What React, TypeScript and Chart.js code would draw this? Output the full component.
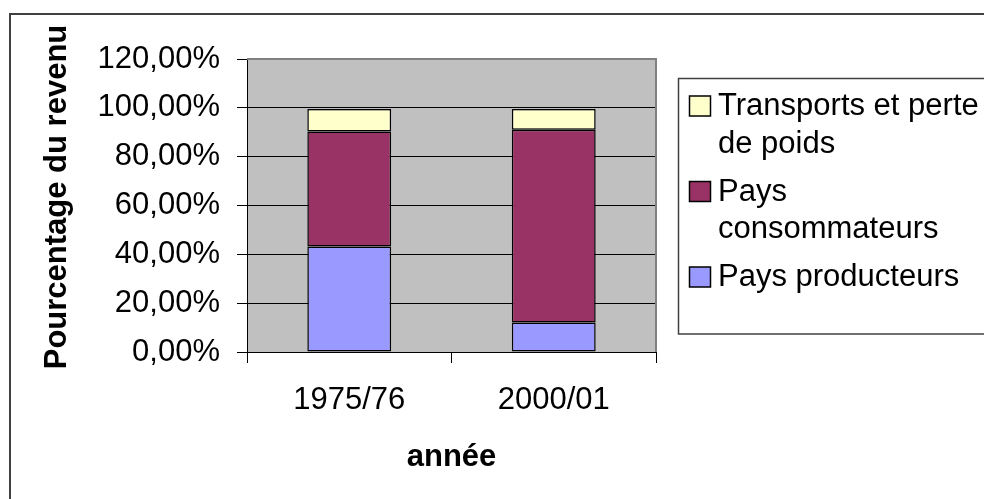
import React, { useEffect, useRef } from "react";
import { Chart, registerables } from "chart.js";

Chart.register(...registerables);

const categories = ["1975/76", "2000/01"];
const producteurs = [43.2, 12.1];
const consommateurs = [47.1, 78.9];
const transports = [9.2, 8.5];
const seriesLabels = ["Pays producteurs", "Pays consommateurs", "Transports et perte de poids"];
const seriesColors = ["#9999FF", "#993366", "#FFFFCC"];
const yTitle = "Pourcentage du revenu";
const xTitle = "année";

const FONT = "'Liberation Sans', Arial, sans-serif";

const framePlugin = {
  id: "frame",
  beforeDraw(chart: any) {
    const { ctx, chartArea } = chart;
    ctx.save();
    ctx.fillStyle = "#ffffff";
    ctx.fillRect(0, 0, chart.width, chart.height);
    ctx.strokeStyle = "#404040";
    ctx.lineWidth = 2;
    ctx.strokeRect(10, 14, chart.width + 20, chart.height + 20);
    ctx.fillStyle = "#C0C0C0";
    ctx.fillRect(chartArea.left, chartArea.top, chartArea.right - chartArea.left, chartArea.bottom - chartArea.top);
    ctx.restore();
  },
  afterDraw(chart: any) {
    const { ctx, chartArea } = chart;
    ctx.save();
    ctx.strokeStyle = "#808080";
    ctx.lineWidth = 2;
    ctx.beginPath();
    ctx.moveTo(chartArea.left, chartArea.top);
    ctx.lineTo(chartArea.right, chartArea.top);
    ctx.lineTo(chartArea.right, chartArea.bottom);
    ctx.stroke();

    // y axis title
    ctx.save();
    ctx.translate(57, 197);
    ctx.rotate(-Math.PI / 2);
    ctx.font = `bold 31px ${FONT}`;
    ctx.fillStyle = "#000000";
    ctx.textAlign = "center";
    ctx.textBaseline = "middle";
    ctx.fillText(yTitle, 0, 0);
    ctx.restore();

    // legend
    const lx = 678.5;
    const ly = 78.5;
    ctx.strokeStyle = "#404040";
    ctx.lineWidth = 1.5;
    ctx.fillStyle = "#ffffff";
    ctx.fillRect(lx, ly, chart.width, 334 - ly);
    ctx.strokeRect(lx, ly, chart.width + 20, 334 - ly);

    ctx.font = `31px ${FONT}`;
    ctx.textBaseline = "alphabetic";
    ctx.textAlign = "left";
    const textX = 718;
    const maxW = 266;
    const lineH = 37.5;
    let baseline = 115;
    const ds = chart.data.datasets;
    for (let i = ds.length - 1; i >= 0; i--) {
      const words = String(ds[i].label).split(" ");
      const lines: string[] = [];
      let cur = "";
      for (const w of words) {
        const test = cur ? cur + " " + w : w;
        if (ctx.measureText(test).width > maxW && cur) {
          lines.push(cur);
          cur = w;
        } else cur = test;
      }
      if (cur) lines.push(cur);
      ctx.fillStyle = ds[i].backgroundColor;
      ctx.fillRect(689.5, baseline - 19, 21, 20);
      ctx.strokeStyle = "#000000";
      ctx.lineWidth = 1.5;
      ctx.strokeRect(689.5, baseline - 19, 21, 20);
      ctx.fillStyle = "#000000";
      lines.forEach((ln, k) => {
        ctx.fillText(ln, textX, baseline + k * lineH);
      });
      baseline += (lines.length - 1) * lineH + 48;
    }
    ctx.restore();
  },
};

export default function App() {
  const ref = useRef<HTMLCanvasElement | null>(null);
  useEffect(() => {
    if (!ref.current) return;
    const datasets = [producteurs, consommateurs, transports].map((d, i) => ({
      label: seriesLabels[i],
      data: d,
      backgroundColor: seriesColors[i],
      borderColor: "#000000",
      borderWidth: 1.5,
      borderSkipped: false,
      barPercentage: 0.41,
      categoryPercentage: 1,
    }));
    const chart = new Chart(ref.current, {
      type: "bar",
      data: { labels: categories, datasets },
      plugins: [framePlugin],
      options: {
        animation: false,
        responsive: false,
        devicePixelRatio: 1,
        layout: { padding: { left: 0, top: 59, right: 984 - 656, bottom: 0 } },
        plugins: { legend: { display: false }, tooltip: { enabled: false }, title: { display: false } },
        scales: {
          x: {
            stacked: true,
            offset: true,
            afterFit: (s: any) => {
              s.height = 499 - 352;
            },
            grid: {
              offset: true,
              drawOnChartArea: false,
              drawTicks: true,
              tickLength: 11,
              color: "#000000",
              tickColor: "#000000",
            },
            border: { display: true, color: "#000000", width: 1 },
            ticks: { color: "#000000", padding: 19, font: { family: FONT, size: 31 } },
            title: {
              display: true,
              text: xTitle,
              color: "#000000",
              padding: { top: 0, bottom: 23 },
              font: { family: FONT, size: 31, weight: "bold" },
            },
          },
          y: {
            stacked: true,
            min: 0,
            max: 120,
            afterFit: (s: any) => {
              s.width = 247;
            },
            grid: { color: "#000000", tickColor: "#000000", tickLength: 10, lineWidth: 1 },
            border: { display: true, color: "#000000", width: 1 },
            ticks: {
              stepSize: 20,
              color: "#000000",
              padding: 17,
              font: { family: FONT, size: 31 },
              callback: (v: any) => Number(v).toFixed(2).replace(".", ",") + "%",
            },
            title: { display: false },
          },
        },
      },
    });
    return () => chart.destroy();
  }, []);
  return (
    <div style={{ position: "fixed", left: 0, top: 0, width: 984, height: 499, background: "#fff" }}>
      <canvas ref={ref} width={984} height={499} style={{ width: 984, height: 499, display: "block" }} />
    </div>
  );
}
